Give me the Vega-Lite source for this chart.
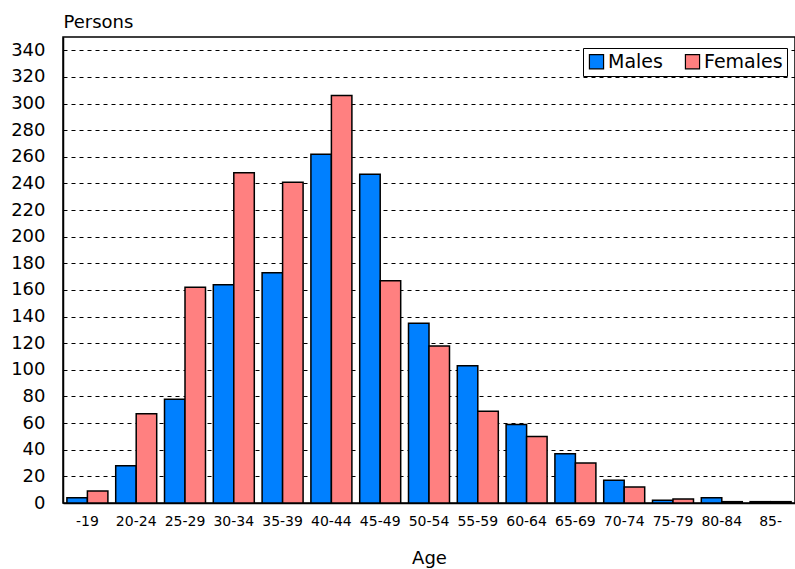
{
  "$schema": "https://vega.github.io/schema/vega-lite/v6.json",
  "autosize": {"type": "none"},
  "padding": {"left": 63, "top": 37, "right": 0, "bottom": 66},
  "width": 732,
  "height": 466,
  "background": "white",
  "config": {
    "view": {"stroke": "black", "strokeWidth": 1.5},
    "font": "DejaVu Sans"
  },
  "data": {
    "values": [
      {"age": "-19", "sex": "Males", "persons": 4},
      {"age": "-19", "sex": "Females", "persons": 9},
      {"age": "20-24", "sex": "Males", "persons": 28},
      {"age": "20-24", "sex": "Females", "persons": 67},
      {"age": "25-29", "sex": "Males", "persons": 78},
      {"age": "25-29", "sex": "Females", "persons": 162},
      {"age": "30-34", "sex": "Males", "persons": 164},
      {"age": "30-34", "sex": "Females", "persons": 248},
      {"age": "35-39", "sex": "Males", "persons": 173},
      {"age": "35-39", "sex": "Females", "persons": 241},
      {"age": "40-44", "sex": "Males", "persons": 262},
      {"age": "40-44", "sex": "Females", "persons": 306},
      {"age": "45-49", "sex": "Males", "persons": 247},
      {"age": "45-49", "sex": "Females", "persons": 167},
      {"age": "50-54", "sex": "Males", "persons": 135},
      {"age": "50-54", "sex": "Females", "persons": 118},
      {"age": "55-59", "sex": "Males", "persons": 103},
      {"age": "55-59", "sex": "Females", "persons": 69},
      {"age": "60-64", "sex": "Males", "persons": 59},
      {"age": "60-64", "sex": "Females", "persons": 50},
      {"age": "65-69", "sex": "Males", "persons": 37},
      {"age": "65-69", "sex": "Females", "persons": 30},
      {"age": "70-74", "sex": "Males", "persons": 17},
      {"age": "70-74", "sex": "Females", "persons": 12},
      {"age": "75-79", "sex": "Males", "persons": 2},
      {"age": "75-79", "sex": "Females", "persons": 3},
      {"age": "80-84", "sex": "Males", "persons": 4},
      {"age": "80-84", "sex": "Females", "persons": 1},
      {"age": "85-", "sex": "Males", "persons": 1},
      {"age": "85-", "sex": "Females", "persons": 1}
    ]
  },
  "mark": {"type": "bar", "stroke": "black", "strokeWidth": 1.5},
  "encoding": {
    "x": {
      "field": "age",
      "type": "nominal",
      "sort": null,
      "scale": {"paddingInner": 0.16, "paddingOuter": 0.08},
      "axis": {
        "title": "Age",
        "labelAngle": 0,
        "ticks": false,
        "domain": true,
        "domainColor": "black",
        "domainWidth": 1.5,
        "labelFont": "DejaVu Sans",
        "labelFontSize": 14,
        "labelColor": "black",
        "labelPadding": 11,
        "titleFont": "DejaVu Sans",
        "titleFontSize": 18,
        "titleFontWeight": "normal",
        "titleColor": "black",
        "titlePadding": 21
      }
    },
    "xOffset": {"field": "sex", "type": "nominal", "sort": ["Males", "Females"], "scale": {"paddingInner": 0, "paddingOuter": 0}},
    "y": {
      "field": "persons",
      "type": "quantitative",
      "scale": {"domain": [0, 350], "nice": false},
      "axis": {
        "values": [0, 20, 40, 60, 80, 100, 120, 140, 160, 180, 200, 220, 240, 260, 280, 300, 320, 340],
        "title": "Persons",
        "titleAngle": 0,
        "titleX": 0,
        "titleY": -10,
        "titleAlign": "left",
        "titleBaseline": "alphabetic",
        "titleFont": "DejaVu Sans",
        "titleFontSize": 18,
        "titleFontWeight": "normal",
        "titleColor": "black",
        "ticks": false,
        "labelPadding": 18,
        "labelFont": "DejaVu Sans",
        "labelFontSize": 18,
        "labelColor": "black",
        "domain": true,
        "domainColor": "black",
        "domainWidth": 1.5,
        "grid": true,
        "gridColor": "black",
        "gridDash": [4, 4],
        "gridWidth": 1.2,
        "gridOpacity": 1
      }
    },
    "color": {
      "field": "sex",
      "type": "nominal",
      "sort": ["Males", "Females"],
      "scale": {"domain": ["Males", "Females"], "range": ["#0080FF", "#FF8080"]},
      "legend": {
        "title": null,
        "orient": "none",
        "legendX": 520,
        "legendY": 11,
        "direction": "horizontal",
        "fillColor": "white",
        "strokeColor": "black",
        "padding": 4,
        "symbolType": "square",
        "symbolSize": 200,
        "symbolStrokeColor": "black",
        "symbolStrokeWidth": 1.2,
        "symbolOpacity": 1,
        "labelFont": "DejaVu Sans",
        "labelFontSize": 19,
        "labelColor": "black",
        "labelOffset": 2,
        "columnPadding": 20
      }
    }
  }
}
